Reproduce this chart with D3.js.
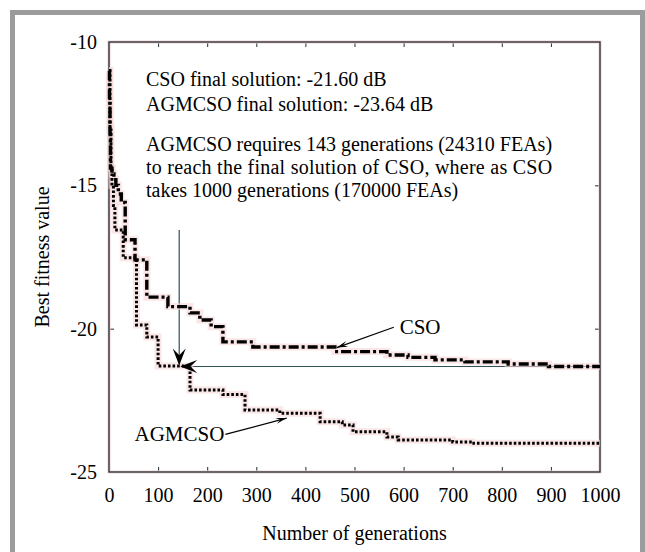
<!DOCTYPE html>
<html><head><meta charset="utf-8">
<script src="https://cdn.jsdelivr.net/npm/d3@7"></script>
<style>body{margin:0;background:#fff}svg{display:block}</style>
</head><body>
<svg id="c" width="645" height="552"></svg>
<script>
// ---- data ----
const csoGen = [0,1,2,3,6,10,14,19,25,33,53,77,120,165,185,208,232,293,460,566,609,664,725,813,895,1000];
const csoVal = [-11.0,-12.0,-13.2,-14.4,-14.6,-14.8,-15.0,-15.3,-15.6,-16.9,-17.6,-18.9,-19.23,-19.45,-19.7,-19.93,-20.46,-20.64,-20.8,-20.92,-21.0,-21.09,-21.16,-21.23,-21.32,-21.32];
const agmGen = [0,2,4,6,9,12,29,56,77,100,165,232,277,348,430,475,497,566,589,700,739,1000];
const agmVal = [-11.0,-13.0,-14.4,-15.0,-15.7,-16.56,-17.53,-19.87,-20.29,-21.3,-22.14,-22.3,-22.84,-22.95,-23.25,-23.36,-23.6,-23.78,-23.88,-23.95,-24.0,-24.0];
const xTicks = [0,100,200,300,400,500,600,700,800,900,1000];
const yTicks = [-10,-15,-20,-25];
const noteLines = ["CSO final solution: -21.60 dB","AGMCSO final solution: -23.64 dB"];
const paraLines = ["AGMCSO requires 143 generations (24310 FEAs)","to reach the final solution of CSO, where as CSO","takes 1000 generations (170000 FEAs)"];
const markGen = 143, markTop = -16.56, csoFinal = -21.32;

const svg = d3.select("#c");
const font = "'Liberation Serif','Times New Roman',serif";
const M = {l:109, r:600, t:42, b:472};
const x = d3.scaleLinear().domain([0,1000]).range([M.l,M.r]);
const y = d3.scaleLinear().domain([-25,-10]).range([M.b,M.t]);

// outer frame
svg.append("rect").attr("x",12.5).attr("y",12.5).attr("width",630).attr("height",570)
  .attr("fill","none").attr("stroke","#9c9c9c").attr("stroke-width",5);

const axColor = "#1c2e38";
const fmt = d => String(d);
function styleAxis(g){
  g.select(".domain").remove();
  g.selectAll(".tick line").attr("stroke",axColor).attr("stroke-width",1);
  g.selectAll(".tick text").attr("fill","#000").style("font-family",font).style("font-size","20px");
}
svg.append("g").attr("transform",`translate(0,${M.b})`)
  .call(d3.axisBottom(x).tickValues(xTicks).tickSize(-5).tickPadding(16).tickFormat(fmt)).call(styleAxis);
svg.append("g").attr("transform",`translate(0,${M.t})`)
  .call(d3.axisTop(x).tickValues(xTicks).tickSize(-5).tickFormat("")).call(styleAxis);
svg.append("g").attr("transform",`translate(${M.l},0)`)
  .call(d3.axisLeft(y).tickValues(yTicks).tickSize(-5).tickPadding(12).tickFormat(fmt)).call(styleAxis);
svg.append("g").attr("transform",`translate(${M.r},0)`)
  .call(d3.axisRight(y).tickValues(yTicks).tickSize(-5).tickFormat("")).call(styleAxis);

// box with faint pink halo
svg.append("rect").attr("x",M.l).attr("y",M.t).attr("width",M.r-M.l).attr("height",M.b-M.t)
  .attr("fill","none").attr("stroke","#f4cfcf").attr("stroke-width",3);
svg.append("rect").attr("x",M.l).attr("y",M.t).attr("width",M.r-M.l).attr("height",M.b-M.t)
  .attr("fill","none").attr("stroke",axColor).attr("stroke-width",1.3);

// annotation lines
const annColor = "#30505a";
svg.append("line").attr("x1",x(markGen)).attr("x2",x(markGen)).attr("y1",y(markTop)).attr("y2",y(csoFinal)-4)
  .attr("stroke",annColor).attr("stroke-width",1.2);
svg.append("line").attr("x1",x(1000)).attr("x2",x(markGen)+4).attr("y1",y(csoFinal)).attr("y2",y(csoFinal))
  .attr("stroke",annColor).attr("stroke-width",1.2);

// curves
const line = d3.line().x(d=>x(d[0])).y(d=>y(d[1])).curve(d3.curveStepAfter);
const cso = csoGen.map((g,i)=>[g,csoVal[i]]);
const agm = agmGen.map((g,i)=>[g,agmVal[i]]);
[agm,cso].forEach(d=>{
  svg.append("path").datum(d).attr("d",line).attr("fill","none")
    .attr("stroke","#f6d6d6").attr("stroke-width",7).attr("opacity",0.6);
});
svg.append("path").datum(agm).attr("d",line).attr("fill","none")
  .attr("stroke","#000").attr("stroke-width",3).attr("stroke-dasharray","2.6,2");
svg.append("path").datum(cso).attr("d",line).attr("fill","none")
  .attr("stroke","#000").attr("stroke-width",3.4).attr("stroke-dasharray","10,3,3,3");

// arrowheads
function arrowHead(tx,ty,ang,L,W){
  const pts = [[0,0],[-L,-W/2],[-L*0.6,0],[-L,W/2]];
  const c=Math.cos(ang), s=Math.sin(ang);
  const p = pts.map(([a,b])=>[tx+a*c-b*s, ty+a*s+b*c]);
  svg.append("path").attr("d","M"+p.map(q=>q.join(",")).join("L")+"Z").attr("fill","#000");
}
arrowHead(x(markGen), y(csoFinal)-1, Math.PI/2, 17, 13);
arrowHead(x(markGen)+1, y(csoFinal), Math.PI, 17, 13);

// label arrows
function labelArrow(x1,y1,x2,y2){
  svg.append("line").attr("x1",x1).attr("y1",y1).attr("x2",x2).attr("y2",y2).attr("stroke","#000").attr("stroke-width",1.2);
  arrowHead(x2,y2,Math.atan2(y2-y1,x2-x1),11,6);
}
labelArrow(x(580), y(-19.95), x(464), y(-20.66));
labelArrow(x(237), y(-23.69), x(362), y(-23.12));

svg.append("text").attr("x",x(592)).attr("y",y(-19.95)+7).text("CSO")
  .style("font-family",font).style("font-size","21px");
svg.append("text").attr("x",x(235)).attr("y",y(-23.69)+7).attr("text-anchor","end").text("AGMCSO")
  .style("font-family",font).style("font-size","21px");

// notes
const nb = [86,111];
noteLines.forEach((t,i)=>svg.append("text").attr("x",146).attr("y",nb[i]).text(t)
  .style("font-family",font).style("font-size","20px"));
const pb = [151,174,197];
const pt = paraLines.map((t,i)=>svg.append("text").attr("x",146).attr("y",pb[i]).text(t)
  .style("font-family",font).style("font-size","20px"));
const w0 = pt[0].node().getComputedTextLength();
pt[1].attr("textLength",w0).attr("lengthAdjust","spacing");

// axis titles
svg.append("text").attr("x",(M.l+M.r)/2).attr("y",540).attr("text-anchor","middle").text("Number of generations")
  .style("font-family",font).style("font-size","20px");
svg.append("text").attr("transform",`translate(49,${(M.t+M.b)/2}) rotate(-90)`).attr("text-anchor","middle").text("Best fitness value")
  .style("font-family",font).style("font-size","20px");
</script>
</body></html>
